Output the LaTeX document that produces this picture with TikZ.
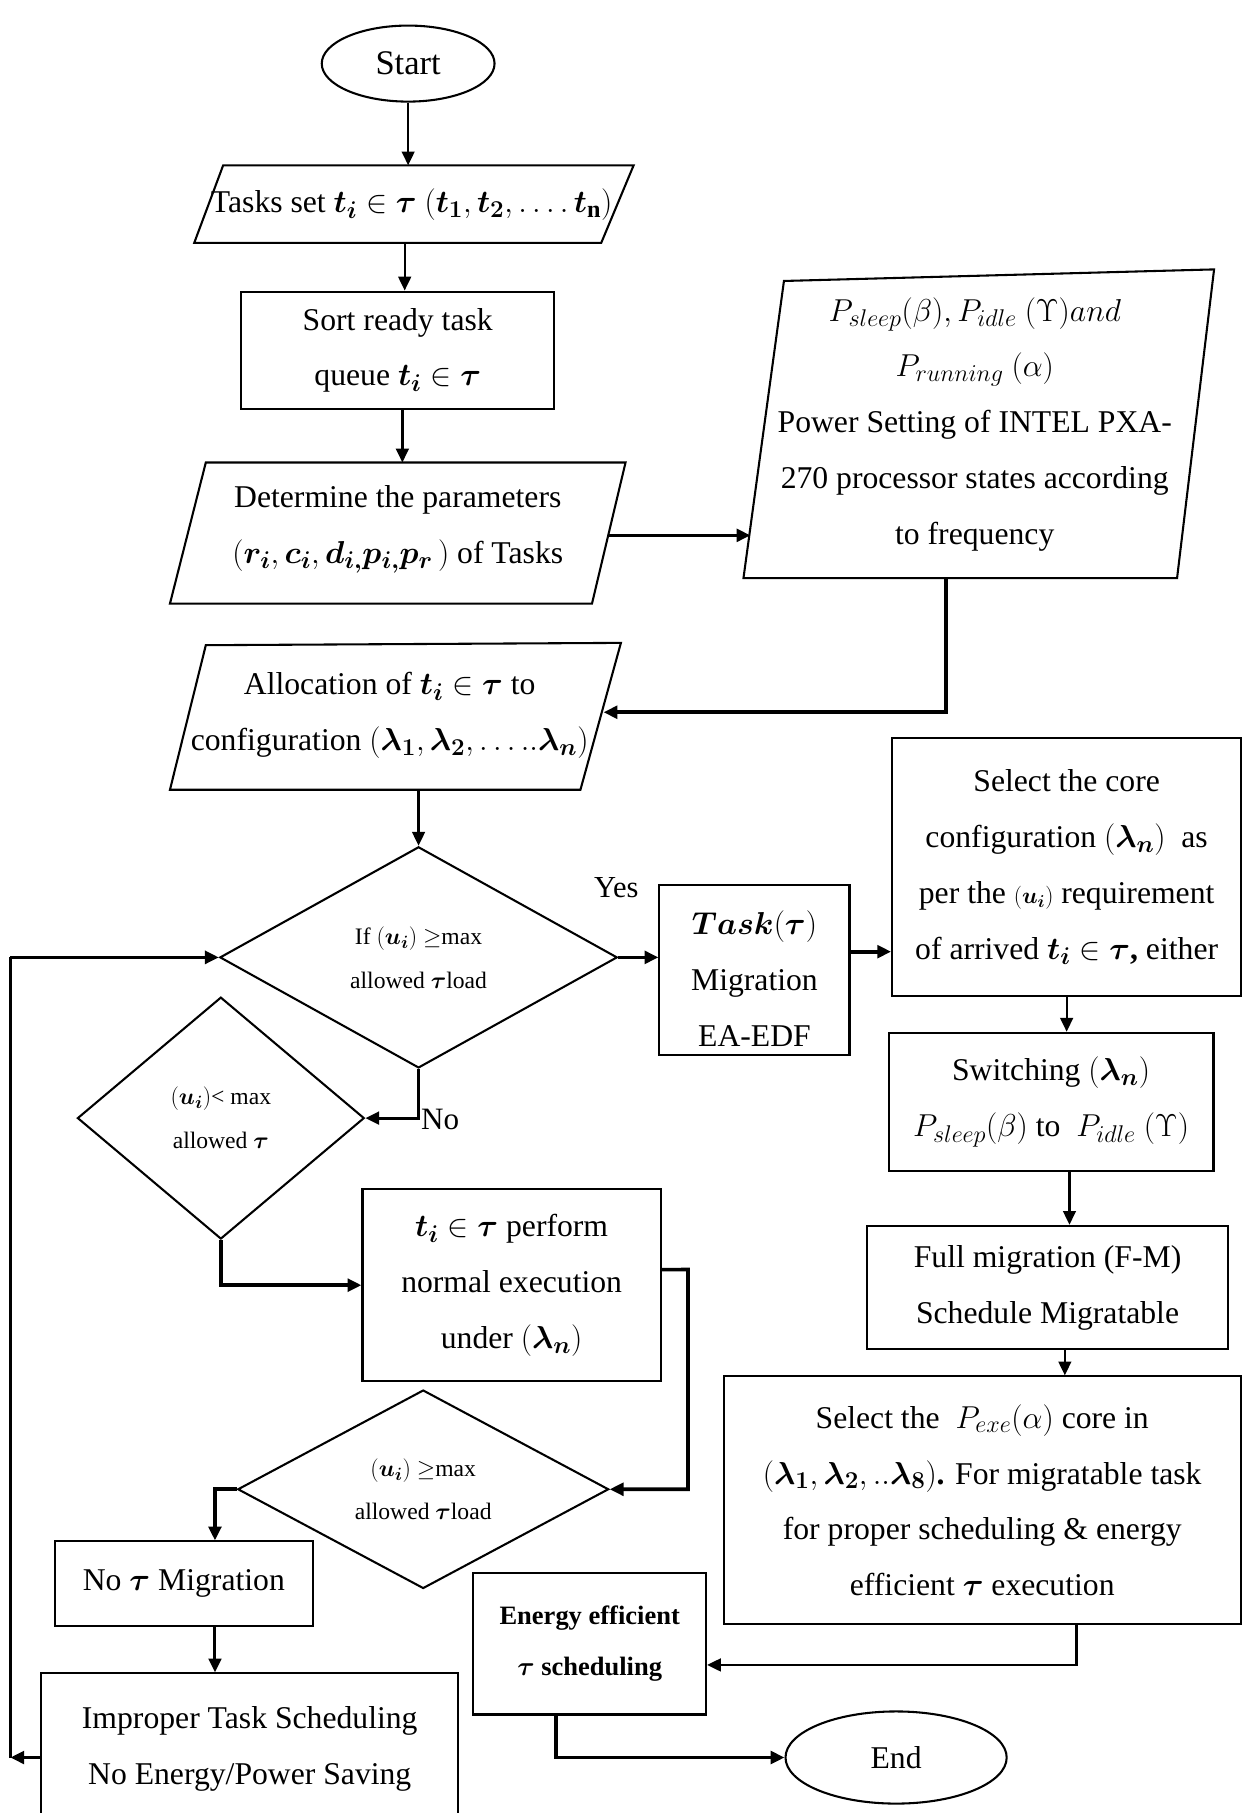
\RequirePackage{fix-cm}
\documentclass[tikz,border=0pt]{standalone}
\usepackage{amsmath,amssymb}
\usepackage{fontspec}
\setmainfont{Liberation Serif}
\usetikzlibrary{arrows.meta,shapes.geometric}

% larger scripts, closer to the look of the formulas in the chart
\DeclareMathSizes{27.5}{27.5}{21}{16}
\DeclareMathSizes{20.5}{20.5}{15.5}{12}
\DeclareMathSizes{23}{23}{17.5}{13}
\DeclareMathSizes{20}{20}{15}{11.5}

\newcommand{\bsy}[1]{\boldsymbol{#1}}
\newcommand{\smallmath}[1]{{\fontsize{20}{20}\selectfont$#1$}}

\tikzset{
  frame/.style={draw, line width=1.8},
  boxnode/.style={frame, rectangle, inner sep=0, align=center, font=\fontsize{27.5}{48.5}\selectfont},
  txt/.style={inner sep=0, align=center, font=\fontsize{27.5}{48.5}\selectfont},
  decision/.style={frame, diamond, inner sep=0, align=center, font=\fontsize{20.5}{38}\selectfont},
  terminal/.style={frame, ellipse, inner sep=0},
  conn/.style={line width=2, -{Triangle[length=12,width=11]}},
  heavy/.style={line width=3.2, -{Triangle[length=12,width=11]}},
  plain/.style={line width=3.2},
}

\begin{document}
\begin{tikzpicture}[x=1bp, y=-1bp]
\useasboundingbox (0,0) rectangle (1076,1568);

% ---------- main column ----------
\node[terminal, minimum width=150, minimum height=66, font=\fontsize{30}{34}\selectfont] (start) at (353,55) {Start};

\draw[frame] (193,143) -- (548,143) -- (520,210) -- (168,210) -- cycle;
\coordinate (tsktop) at (353,143);
\coordinate (tskbot) at (350,210);
\node[txt] (tasks) at (356,177) {Tasks set $\bsy{t_i}\in\bsy{\tau}$ $(\bsy{t_1},\bsy{t_2},\ldots.\,\bsy{t}_{\mathbf{n}})$};

\node[boxnode, minimum width=272, minimum height=102] (sort) at (344,303) {Sort ready task\\queue $\bsy{t_i}\in\bsy{\tau}$};

\draw[frame] (178,400) -- (541,400) -- (512,522) -- (147,522) -- cycle;
\coordinate (dettop) at (348,400);
\coordinate (deteast) at (526,463);
\node[txt] (det) at (344,458) {Determine the parameters\\$(\bsy{r_i},\bsy{c_i},\bsy{d_{i,}}\bsy{p_{i,}}\bsy{p_r}\,)$ of Tasks};

% power settings
\draw[frame] (678,243) -- (1050,233) -- (1018,500) -- (643,500) -- cycle;
\coordinate (powwest) at (649,463);
\coordinate (powsouth) at (818,500);
\coordinate (powturn) at (818,616);
\node[txt] (power) at (843,367) {$P_{sleep}(\beta),P_{idle}\ (\Upsilon) and$\\$P_{running}\ (\alpha)$\\Power Setting of INTEL PXA-\\270 processor states according\\to frequency};

% allocation
\draw[frame] (178,558) -- (537,556) -- (502,683) -- (147,683) -- cycle;
\coordinate (alleast) at (522,616);
\coordinate (allsouth) at (362,683);
\node[txt] (alloc) at (337,619) {Allocation of $\bsy{t_i}\in\bsy{\tau}$ to\\configuration $(\bsy{\lambda_1},\bsy{\lambda_2},\ldots..\bsy{\lambda_n})$};

% decisions
\node[decision, minimum width=345, minimum height=192] (d1) at (362,828) {If $(\bsy{u_i})$ $\geq$max\\allowed $\bsy{\tau}$load};
\node[decision, minimum width=249, minimum height=210] (d2) at (191,967) {$(\bsy{u_i})$< max\\allowed $\bsy{\tau}$};
\node[decision, minimum width=322, minimum height=170] (d3) at (366,1288) {$(\bsy{u_i})$ $\geq$max\\allowed $\bsy{\tau}$load};

\node[boxnode, minimum width=165, minimum height=148] (task) at (652.5,839) {\rule{0pt}{35bp}$\bsy{Task}(\bsy{\tau})$\\Migration\\EA-EDF};

\node[boxnode, minimum width=259, minimum height=167] (normal) at (442.5,1111.5) {$\bsy{t_i}\in\bsy{\tau}$ perform\\normal execution\\under $(\bsy{\lambda_n})$};
\coordinate (loopr) at (595,1098);

\node[boxnode, minimum width=224, minimum height=73] (nomig) at (159,1369.5) {No $\bsy{\tau}$ Migration};
\node[boxnode, minimum width=362, minimum height=131] (improper) at (216,1512.5) {Improper Task Scheduling\\No Energy/Power Saving};
\coordinate (fbbot) at (9,1520);
\coordinate (fbtop) at (9,828);

% ---------- right column ----------
\node[boxnode, minimum width=303, minimum height=224] (sel) at (922.5,750) {Select the core\\configuration $(\bsy{\lambda_n})$\ \ as\\per the \smallmath{(\bsy{u_i})} requirement\\of arrived $\bsy{t_i}\in\bsy{\tau}$\textbf{,} either};
\node[boxnode, minimum width=282, minimum height=120] (sw) at (909,953) {Switching $(\bsy{\lambda_n})$\\$P_{sleep}(\beta)$ to\ \ $P_{idle}\ (\Upsilon)$};
\node[boxnode, minimum width=314, minimum height=107] (full) at (906,1113.5) {Full migration (F-M)\\Schedule Migratable};
\node[boxnode, minimum width=449, minimum height=215] (selp) at (849.5,1297.5) {Select the\ \ $P_{exe}(\alpha)$ core in\\$(\bsy{\lambda_1},\bsy{\lambda_2},..\bsy{\lambda_8})$\textbf{.} For migratable task\\for proper scheduling \& energy\\efficient $\bsy{\tau}$ execution};
\node[boxnode, minimum width=202, minimum height=123, font=\fontsize{23}{45}\selectfont\bfseries] (energy) at (510,1421.5) {Energy efficient\\$\bsy{\tau}$ scheduling};
\node[terminal, minimum width=192, minimum height=80, font=\fontsize{27.5}{32}\selectfont] (end) at (775,1520) {End};

% ---------- labels ----------
\node[txt, font=\fontsize{26.5}{30}\selectfont] (yes) at (533,768) {Yes};
\node[txt, anchor=west, font=\fontsize{27}{30}\selectfont] (no) at (364,968) {No};

% ---------- connectors ----------
\draw[conn] (start.south) -- (tsktop);
\draw[conn] (tskbot) -- (tskbot |- sort.north);
\draw[conn] (sort.south -| dettop) -- (dettop);
\draw[heavy] (deteast) -- (powwest);
\draw[heavy] (powsouth) -- (powturn) -- (alleast);
\draw[conn] (allsouth) -- (d1.north);
\draw[heavy] (d1.east) -- (d1.east -| task.west);
\draw[heavy] ([yshift=16]task.east) -- ([yshift=16]task.east -| sel.west);
\draw[conn] (sel.south) -- (sel.south |- sw.north);
\draw[conn] ([xshift=16]sw.south) -- ([xshift=16]sw.south |- full.north);
\draw[conn] ([xshift=15]full.south) -- ([xshift=15]full.south |- selp.north);
\draw[conn, line width=2.4] ([xshift=81.5]selp.south) |- ([yshift=-18.5]energy.east);
\draw[heavy] ([xshift=-29]energy.south) |- (end.west);
\draw[conn, line width=2.6] (d1.south) |- (d2.east);
\draw[heavy] (d2.south) |- (normal.west);
\draw[heavy] ([yshift=13.5]normal.east) -- (loopr) |- (d3.east);
\draw[heavy] (d3.west) -| ([xshift=27]nomig.north);
\draw[conn, line width=2.6] ([xshift=27]nomig.south) -- ([xshift=27]nomig.south |- improper.north);
\draw[heavy] (improper.west |- fbbot) -- (fbbot);
\draw[plain] (fbbot) -- (fbtop);
\draw[heavy] (fbtop) -- (d1.west);
\end{tikzpicture}
\end{document}
